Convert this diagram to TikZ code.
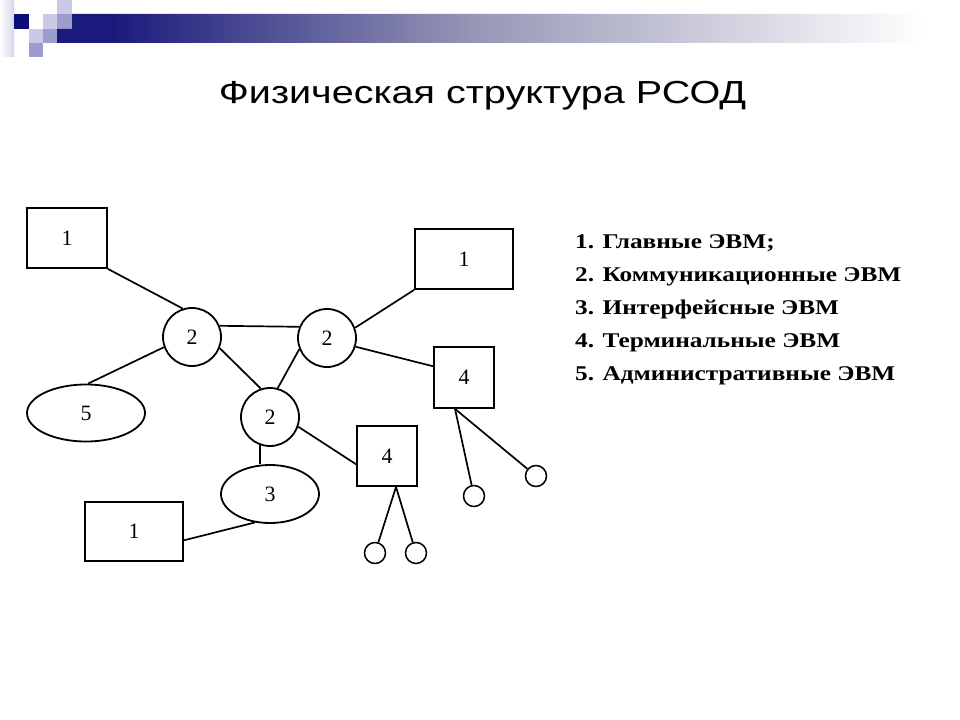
\documentclass[tikz,border=0pt]{standalone}
\usepackage{graphicx}
\usepackage{fontspec}
\setmainfont{Liberation Serif}
\newfontfamily\titlefont{Liberation Sans}
\usetikzlibrary{shapes.geometric,calc}
\definecolor{hn}{RGB}{26,26,124}
\definecolor{hm}{RGB}{150,150,182}
\definecolor{sqdark}{RGB}{12,12,120}
\definecolor{lavA}{RGB}{202,202,230}
\definecolor{lavB}{RGB}{156,156,206}
\definecolor{lavC}{RGB}{214,214,236}
\pgfdeclarehorizontalshading{hdr}{100bp}{color(0bp)=(hn); color(28bp)=(hn); color(48bp)=(hm); color(73bp)=(white); color(100bp)=(white)}
\newcommand{\wide}[1]{\scalebox{1.21}[1]{#1}}
\begin{document}
\begin{tikzpicture}[x=1bp,y=-1bp,
  every node/.style={inner sep=0pt},
  lbl/.style={font=\fontsize{22}{26}\selectfont},
  boxnode/.style={draw,line width=1.8bp,rectangle,lbl},
  hub/.style={draw,line width=1.8bp,circle,minimum size=58bp,lbl},
  oval/.style={draw,line width=1.8bp,ellipse,lbl},
  term/.style={draw,line width=1.5bp,circle,minimum size=21bp},
  link/.style={line width=1.7bp},
  legend/.style={font=\fontsize{21}{33}\selectfont\bfseries,anchor=base west}
]
\useasboundingbox (0,0) rectangle (960,720);
\fill[white] (0,0) rectangle (960,720);
% header decoration
\shade[left color=white,right color=lavC] (0,0) rectangle (14,57);
\fill[sqdark] (14,14) rectangle (29,29);
\fill[lavA] (29,29) rectangle (43,43);
\fill[lavB] (29,43) rectangle (43,57);
\fill[lavA] (43,14) rectangle (57,29);
\fill[lavB] (43,29) rectangle (57,43);
\fill[lavA] (57,0) rectangle (72,14);
\fill[lavB] (57,14) rectangle (72,29);
\shade[shading=hdr] (72,14) -- (960,14) -- (960,43) -- (57,43) -- (57,29) -- (72,29) -- cycle;
% title
\node[font=\titlefont\fontsize{32}{38}\selectfont,anchor=base] (title) at (482.5,104) {\scalebox{1.24}[1]{Физическая структура РСОД}};
% nodes
\node[boxnode,minimum width=80bp,minimum height=60bp] (b1a) at (67,238) {1};
\node[boxnode,minimum width=98bp,minimum height=60bp] (b1b) at (464,259) {1};
\node[boxnode,minimum width=98bp,minimum height=59bp] (b1c) at (134,531.5) {1};
\node[hub] (c2a) at (192,337) {2};
\node[hub] (c2b) at (327,338) {2};
\node[hub] (c2c) at (270,417) {2};
\node[oval,minimum width=118bp,minimum height=57bp] (e5) at (86,413) {5};
\node[oval,minimum width=98bp,minimum height=58bp] (e3) at (270,494) {3};
\node[boxnode,minimum width=60bp,minimum height=61bp] (b4r) at (464,377.5) {4};
\node[boxnode,minimum width=60bp,minimum height=60bp] (b4m) at (387,456) {4};
\node[term] (s1) at (375,553) {};
\node[term] (s2) at (416,553) {};
\node[term] (s3) at (474,496) {};
\node[term] (s4) at (536,476) {};
% connectors
\draw[link] (b1a.south east) -- (c2a.108);
\draw[link] (c2a.22) -- (c2b.158);
\draw[link] (c2a.200) -- (e5.86);
\draw[link] (c2a.-22) -- (c2c.108);
\draw[link] (c2b.202) -- (c2c.75);
\draw[link] (c2b.20) -- (b1b.south west);
\draw[link] (c2b.-17) -- (b4r.160);
\draw[link] (c2c.-19) -- (b4m.195);
\draw[link] (c2c.250) -- (c2c.250 |- e3.north);
\draw[link] (e3.242) -- (b1c.-10);
\coordinate (p4m) at ($(b4m.south)+(9,0)$);
\coordinate (p4r) at ($(b4r.south)+(-9,0)$);
\draw[link] (p4m) -- (s1);
\draw[link] (p4m) -- (s2);
\draw[link] (p4r) -- (s3);
\draw[link] (p4r) -- (s4);
% legend
\node[legend] (l1) at (575,248) {\wide{1. Главные ЭВМ;}};
\node[legend] (l2) at (575,281) {\wide{2. Коммуникационные ЭВМ}};
\node[legend] (l3) at (575,314) {\wide{3. Интерфейсные ЭВМ}};
\node[legend] (l4) at (575,347) {\wide{4. Терминальные ЭВМ}};
\node[legend] (l5) at (575,380) {\wide{5. Административные ЭВМ}};
\end{tikzpicture}
\end{document}
